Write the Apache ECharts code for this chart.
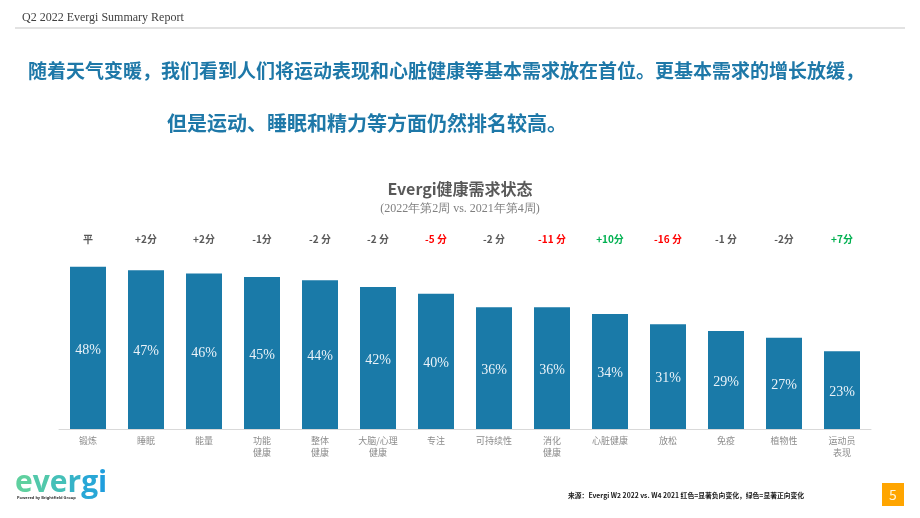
<!DOCTYPE html>
<html>
<head>
<meta charset="utf-8">
<script src="https://cdn.jsdelivr.net/npm/echarts@6/dist/echarts.min.js"></script>
<style>
  html, body { margin: 0; padding: 0; background: #fff; }
  #main { width: 920px; height: 518px; }
</style>
</head>
<body>
<div id="main"></div>
<script>
// 数据
var categories = ['锻炼', '睡眠', '能量', '功能\n健康', '整体\n健康', '大脑/心理\n健康', '专注', '可持续性', '消化\n健康', '心脏健康', '放松', '免疫', '植物性', '运动员\n表现'];
var shares = [48, 47, 46, 45, 44, 42, 40, 36, 36, 34, 31, 29, 27, 23];
var changes = ['平', '+2分', '+2分', '-1分', '-2 分', '-2 分', '-5 分', '-2 分', '-11 分', '+10分', '-16 分', '-1 分', '-2分', '+7分'];
// 显著性: -1 负向, 1 正向, 0 无
var significance = [0, 0, 0, 0, 0, 0, -1, 0, -1, 1, -1, 0, 0, 1];

var chart = echarts.init(document.getElementById('main'));

var cjk = '"Noto Sans CJK SC", "Noto Sans", sans-serif';
var serif = '"Liberation Serif", "DejaVu Serif", serif';

var option = {
  animation: false,
  grid: { left: 59, right: 49, top: 260, bottom: 89 },
  title: [
    {
      text: 'Evergi健康需求状态',
      left: 'center', top: 176,
      textStyle: { fontFamily: cjk, fontSize: 16, fontWeight: 'bold', color: '#595959' }
    },
    {
      text: '(2022年第2周 vs. 2021年第4周)',
      left: 'center', top: 198,
      textStyle: { fontFamily: serif, fontSize: 12, fontWeight: 'normal', color: '#7f7f7f' }
    }
  ],
  xAxis: [
    {
      type: 'category',
      data: categories,
      axisLine: { lineStyle: { color: '#d9d9d9', width: 1 } },
      axisTick: { show: false },
      axisLabel: {
        interval: 0, margin: 6,
        fontFamily: cjk, fontSize: 9, color: '#8c8c8c', lineHeight: 12
      }
    },
    {
      type: 'category',
      data: changes,
      position: 'top',
      offset: 0,
      axisLine: { show: false },
      axisTick: { show: false },
      axisLabel: {
        interval: 0, margin: 16,
        fontFamily: cjk, fontSize: 10, fontWeight: 'bold',
        color: function (value, index) {
          var s = significance[index];
          return s < 0 ? '#ff0000' : (s > 0 ? '#00b050' : '#595959');
        }
      }
    }
  ],
  yAxis: {
    type: 'value', min: 0, max: 50,
    show: false
  },
  series: [{
    type: 'bar',
    data: shares,
    barWidth: 36,
    itemStyle: { color: '#1a7aa8' },
    label: {
      show: true,
      position: 'inside',
      offset: [0, 2],
      formatter: '{c}%',
      fontFamily: serif, fontSize: 14, color: '#eaf2f8'
    }
  }],
  graphic: [
    {
      type: 'text', left: 22, top: 12,
      style: { text: 'Q2 2022 Evergi Summary Report', font: '12px ' + serif, fill: '#404040' }
    },
    {
      type: 'line', shape: { x1: 15, y1: 28, x2: 905, y2: 28 },
      style: { stroke: '#d9d9d9', lineWidth: 1.5 }
    },
    {
      type: 'text', x: 446, y: 71,
      style: {
        text: '随着天气变暖，我们看到人们将运动表现和心脏健康等基本需求放在首位。更基本需求的增长放缓，',
        font: 'bold 19px ' + cjk, fill: '#1e78a8', align: 'center', verticalAlign: 'middle'
      }
    },
    {
      type: 'text', x: 367, y: 123,
      style: {
        text: '但是运动、睡眠和精力等方面仍然排名较高。',
        font: 'bold 20px ' + cjk, fill: '#1e78a8', align: 'center', verticalAlign: 'middle'
      }
    },
    {
      type: 'text', left: 568, top: 492,
      style: {
        text: '来源：Evergi W2 2022 vs. W4 2021 红色=显著负向变化，绿色=显著正向变化',
        font: 'bold 6.8px ' + cjk, fill: '#1a1a1a'
      }
    },
    {
      type: 'rect', shape: { x: 882, y: 483, width: 22, height: 23 },
      style: { fill: '#ffa500' }
    },
    {
      type: 'text', x: 893, y: 494.5,
      style: { text: '5', font: '14px ' + cjk, fill: '#fff4dc', align: 'center', verticalAlign: 'middle' }
    },
    {
      type: 'text', left: 15, top: 468,
      style: {
        text: '{a|e}{b|v}{c|e}{d|r}{e|g}{f|i}',
        font: 'bold 30px "Open Sans", "Noto Sans", sans-serif',
        rich: {
          a: { fill: '#5fd09f', font: 'bold 30px "Open Sans", sans-serif' },
          b: { fill: '#52c8ab', font: 'bold 30px "Open Sans", sans-serif' },
          c: { fill: '#45c0b8', font: 'bold 30px "Open Sans", sans-serif' },
          d: { fill: '#36b3c8', font: 'bold 30px "Open Sans", sans-serif' },
          e: { fill: '#28a7d6', font: 'bold 30px "Open Sans", sans-serif' },
          f: { fill: '#209edd', font: 'bold 30px "Open Sans", sans-serif' }
        }
      }
    },
    {
      type: 'text', left: 17, top: 496,
      style: { text: 'Powered by Brightfield Group', font: 'bold 4px "Noto Sans", sans-serif', fill: '#333' }
    }
  ]
};

chart.setOption(option);
</script>
</body>
</html>
